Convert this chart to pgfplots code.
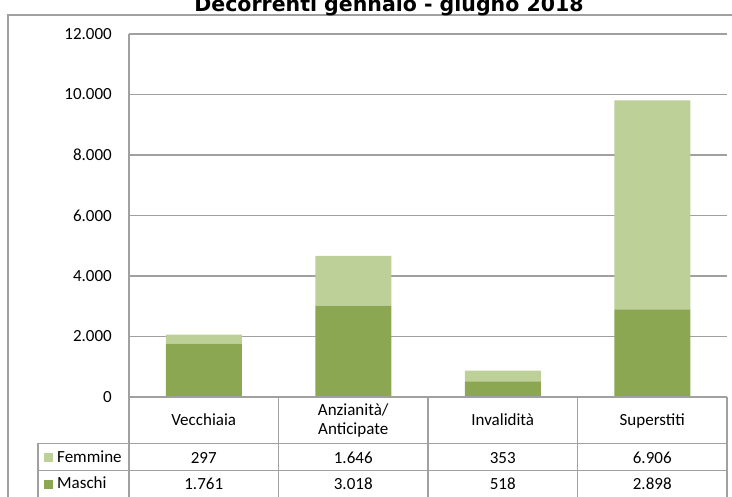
\documentclass[border=0pt]{standalone}
\usepackage{pgfplots}
\pgfplotsset{compat=1.18}
\usepackage{fontspec}
\setmainfont{Carlito}
\newfontfamily\titlefont{DejaVu Sans}
\definecolor{fem}{HTML}{BCD098}
\definecolor{mas}{HTML}{8BA752}
\definecolor{gridc}{HTML}{A0A0A0}
\begin{document}
\begin{tikzpicture}[x=1pt,y=1pt]
\fontsize{17}{20}\selectfont
\useasboundingbox (0,0) rectangle (732,497);
% outer chart border
\draw[gridc, line width=1.3pt] (8,-10) -- (8,482) -- (745,482);
\node[anchor=base, inner sep=0pt, font=\titlefont\bfseries\fontsize{20.5}{24}\selectfont] at (389,485) {Decorrenti gennaio - giugno 2018};
\begin{axis}[
  at={(129pt,100pt)}, anchor=south west,
  scale only axis, width=598pt, height=363pt,
  ymin=0, ymax=12000, xmin=-0.5, xmax=3.5,
  ybar stacked, bar width=76pt,
  axis x line=none,
  axis y line=left,
  axis line style={-, gridc, line width=1.3pt},
  ytick={0,2000,4000,6000,8000,10000,12000},
  scaled y ticks=false,
  ymajorgrids, grid style={gridc, line width=1.3pt},
  major tick length=0pt,
  yticklabel style={anchor=east, inner sep=0pt, xshift=-17pt, font=\fontsize{17}{20}\selectfont,
    /pgf/number format/.cd, fixed, 1000 sep={.}, assume math mode=true},
]
\addplot[fill=mas, draw=none] coordinates {(0,1761) (1,3018) (2,518) (3,2898)};
\addplot[fill=fem, draw=none] coordinates {(0,297) (1,1646) (2,353) (3,6906)};
\end{axis}
% data table
\draw[gridc, line width=1.3pt] (129,100) -- (727,100);
\draw[gridc, line width=1.3pt] (38,53.5) -- (727,53.5);
\draw[gridc, line width=1.3pt] (38,26.5) -- (727,26.5);
\foreach \xx in {129,278.5,428,577.5,727} {\draw[gridc, line width=1.3pt] (\xx,100) -- (\xx,-5);}
\draw[gridc, line width=1.3pt] (38,53.5) -- (38,-5);
% header
\node[anchor=base, inner sep=0pt] at (203.75,71) {Vecchiaia};
\node[anchor=base, inner sep=0pt] at (353.25,81) {Anzianità/};
\node[anchor=base, inner sep=0pt] at (353.25,62) {Anticipate};
\node[anchor=base, inner sep=0pt] at (502.75,71) {Invalidità};
\node[anchor=base, inner sep=0pt] at (652.25,71) {Superstiti};
% legend cells
\fill[fem] (44,35) rectangle (53,44);
\node[anchor=base west, inner sep=0pt] at (57,34) {Femmine};
\fill[mas] (44,8) rectangle (53,17);
\node[anchor=base west, inner sep=0pt] at (57,8) {Maschi};
% values
\node[anchor=base, inner sep=0pt] at (203.75,33) {297};
\node[anchor=base, inner sep=0pt] at (353.25,33) {1.646};
\node[anchor=base, inner sep=0pt] at (502.75,33) {353};
\node[anchor=base, inner sep=0pt] at (652.25,33) {6.906};
\node[anchor=base, inner sep=0pt] at (203.75,7) {1.761};
\node[anchor=base, inner sep=0pt] at (353.25,7) {3.018};
\node[anchor=base, inner sep=0pt] at (502.75,7) {518};
\node[anchor=base, inner sep=0pt] at (652.25,7) {2.898};
\end{tikzpicture}
\end{document}
